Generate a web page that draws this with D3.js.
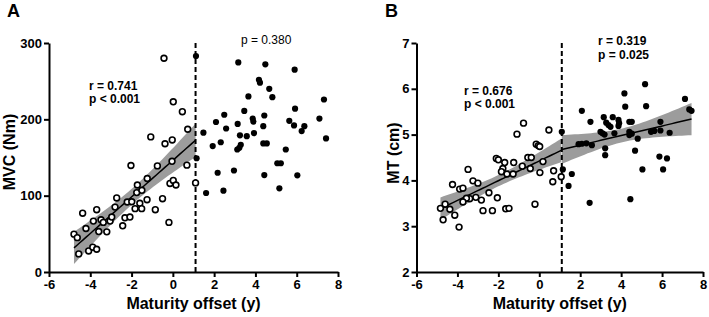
<!DOCTYPE html>
<html>
<head>
<meta charset="utf-8">
<script src="https://cdn.jsdelivr.net/npm/d3@7"></script>
<style>
  body { margin: 0; background: #fff; }
  svg { display: block; font-family: "Liberation Sans", Arial, sans-serif; }
  .axis path, .axis line { stroke: #000; stroke-width: 2; }
  .axis text { font-size: 13px; font-weight: bold; fill: #000; }
  .axis-title { font-size: 16px; font-weight: bold; }
  .panel-tag { font-size: 18px; font-weight: bold; }
  .stat { font-size: 12px; font-weight: bold; }
  .stat-plain { font-size: 12px; }
</style>
</head>
<body>
<svg id="chart" width="709" height="317"></svg>
<script>
// tick labels
const xTicks = [-6, -4, -2, 0, 2, 4, 6, 8];
const mvcTicks = [0, 100, 200, 300];
const mtTicks = [2, 3, 4, 5, 6, 7];
const pvCut = 1.1; // seuil peak velocity (trait pointillé)

// MVC (Nm) - pré-PHV (cercles vides), [maturity offset, valeur]
const mvcOpen = [
  [-4.79, 49.6], [-4.63, 45], [-4.56, 23.7], [-4.37, 77], [-4.21, 57], [-4.08, 27.6],
  [-3.88, 32.5], [-3.69, 81.6], [-3.85, 66.7], [-3.69, 29.8], [-3.59, 53], [-3.48, 68.4],
  [-3.37, 65], [-3.2, 52.6], [-3.04, 66.7], [-2.96, 72], [-2.8, 85], [-2.72, 97],
  [-2.43, 60.5], [-2.32, 71], [-2.08, 72], [-2.21, 91.7], [-2.03, 139.5], [-1.99, 92],
  [-1.83, 83], [-1.75, 104], [-1.72, 114], [-1.6, 90], [-1.51, 83], [-1.5, 107],
  [-1.25, 94.7], [-1.24, 122.5], [-0.85, 81.6], [-0.75, 139], [-0.5, 96], [-0.19, 65],
  [-0.14, 116], [0.02, 120], [0.15, 114], [-0.04, 145], [0.68, 140], [1.1, 116.7],
  [-0.43, 280], [0.02, 223], [0.46, 210], [0.72, 187], [-1.07, 177], [-0.38, 168], [-0.03, 173]
];
// MVC (Nm) - post-PHV (points pleins)
const mvcFilled = [
  [1.12, 283], [3.17, 274.6], [4.48, 272], [5.9, 265], [4.17, 251.7], [4.22, 248],
  [4.67, 240], [3.66, 230], [4.82, 229], [7.32, 226], [5.92, 214], [3.46, 211],
  [2.49, 206], [4.43, 205], [3.87, 201], [3.9, 197], [2.09, 196.5], [3.14, 194],
  [4.38, 191], [5.64, 198], [7.1, 201], [5.87, 192], [6.37, 191], [6.24, 184.6],
  [2.58, 188], [1.48, 182.5], [3.93, 182], [3.25, 179], [3.58, 178], [7.42, 175],
  [2.32, 170], [1.93, 165], [3.29, 166.7], [3.22, 162.7], [3.12, 160.5], [4.38, 168.4],
  [4.55, 168.4], [5.47, 160.5], [1.15, 149], [2.17, 130], [2.96, 133], [5.06, 142.5],
  [5.23, 142.5], [4.43, 127], [6.03, 126.7], [5.16, 109.6], [1.61, 103.5], [2.45, 106.6]
];
// MT (cm) - pré-PHV
const mtOpen = [
  [-0.77, 5.25], [-1.09, 5.01], [0.47, 5.10], [-0.15, 4.79], [-0.05, 4.76], [0.02, 4.74],
  [-2.1, 4.48], [-2.0, 4.45], [-1.69, 4.39], [-1.25, 4.39], [-0.56, 4.5], [-0.39, 4.5],
  [0.18, 4.41], [-0.83, 4.31], [-0.44, 4.26], [-3.48, 4.24], [-1.78, 4.26], [-1.85, 4.19],
  [-1.58, 4.14], [-1.28, 4.14], [0.03, 4.17], [0.7, 4.21], [0.66, 3.97], [1.07, 4.08],
  [-4.24, 3.91], [-3.24, 3.99], [-3.0, 3.94], [-3.89, 3.81], [-3.73, 3.83], [-2.46, 3.73],
  [-2.05, 3.62], [-2.83, 3.57], [-3.1, 3.63], [-3.4, 3.6], [-3.56, 3.61], [-3.73, 3.53],
  [-4.6, 3.48], [-4.83, 3.39], [-4.37, 3.37], [-4.13, 3.24], [-4.7, 3.14], [-3.92, 2.98],
  [-2.75, 3.34], [-2.29, 3.34], [-1.64, 3.38], [-1.48, 3.39], [-0.21, 3.48]
];
// MT (cm) - post-PHV
const mtFilled = [
  [5.17, 6.1], [4.16, 5.9], [4.2, 5.61], [5.22, 5.62], [7.12, 5.78], [7.33, 5.55],
  [7.44, 5.52], [2.08, 5.52], [2.5, 5.28], [3.15, 5.38], [3.59, 5.38], [3.27, 5.26],
  [3.38, 5.21], [3.48, 5.17], [3.87, 5.32], [3.9, 5.25], [3.87, 5.19], [4.4, 5.28],
  [4.52, 5.28], [5.92, 5.28], [2.99, 5.06], [3.09, 5.03], [3.19, 5.0], [3.67, 5.03],
  [4.4, 5.06], [4.52, 5.02], [4.4, 4.99], [5.46, 5.06], [5.62, 5.08], [5.92, 5.09],
  [6.37, 5.04], [4.81, 4.91], [1.92, 4.79], [2.08, 4.8], [2.3, 4.81], [2.57, 4.77],
  [1.1, 5.06], [3.22, 4.7], [3.22, 4.55], [4.68, 4.65], [5.87, 4.52], [6.24, 4.48],
  [5.04, 4.24], [6.05, 4.24], [1.15, 4.24], [1.59, 4.14], [1.43, 3.88], [2.46, 3.51], [4.45, 3.59]
];

const panels = [
  {
    tag: 'A', yLabel: 'MVC (Nm)', yDomain: [0, 300], yTicks: mvcTicks,
    open: mvcOpen, filled: mvcFilled, fitOpen: true, fitFilled: false,
    box: { left: 49, right: 338, top: 43, bottom: 272 },
    tagPos: [7, 17], yLabelPos: [15, 152],
    stats: [
      { x: 89, y: 89.5, lines: ['r = 0.741', 'p < 0.001'], cls: 'stat' },
      { x: 241, y: 44, lines: ['p = 0.380'], cls: 'stat-plain' }
    ]
  },
  {
    tag: 'B', yLabel: 'MT (cm)', yDomain: [2, 7], yTicks: mtTicks,
    open: mtOpen, filled: mtFilled, fitOpen: true, fitFilled: true,
    box: { left: 416.5, right: 703, top: 43, bottom: 272 },
    tagPos: [385, 17], yLabelPos: [399, 153],
    stats: [
      { x: 464, y: 94.5, lines: ['r = 0.676', 'p < 0.001'], cls: 'stat' },
      { x: 598, y: 45, lines: ['r = 0.319', 'p = 0.025'], cls: 'stat' }
    ]
  }
];

// Régression linéaire + IC 95 %
function fitLine(pts) {
  const n = pts.length;
  const mx = d3.mean(pts, d => d[0]);
  const my = d3.mean(pts, d => d[1]);
  const sxx = d3.sum(pts, d => (d[0] - mx) ** 2);
  const sxy = d3.sum(pts, d => (d[0] - mx) * (d[1] - my));
  const b = sxy / sxx;
  const a = my - b * mx;
  const sse = d3.sum(pts, d => (d[1] - a - b * d[0]) ** 2);
  const s = Math.sqrt(sse / (n - 2));
  const t = 1.96 + 2.4 / (n - 2);
  const [x0, x1] = d3.extent(pts, d => d[0]);
  return d3.range(0, 41).map(i => {
    const x = x0 + (x1 - x0) * i / 40;
    const yh = a + b * x;
    const h = t * s * Math.sqrt(1 / n + (x - mx) ** 2 / sxx);
    return { x, y: yh, lo: yh - h, hi: yh + h };
  });
}

const svg = d3.select('#chart');

panels.forEach(p => {
  const g = svg.append('g');
  const x = d3.scaleLinear().domain([-6, 8]).range([p.box.left, p.box.right]);
  const y = d3.scaleLinear().domain(p.yDomain).range([p.box.bottom, p.box.top]);

  // bandes de confiance et droites
  const fits = [];
  if (p.fitOpen) fits.push(fitLine(p.open));
  if (p.fitFilled) fits.push(fitLine(p.filled));
  fits.forEach(band => {
    g.append('path')
      .attr('d', d3.area().x(d => x(d.x)).y0(d => y(d.lo)).y1(d => y(d.hi))(band))
      .attr('fill', '#9c9c9c');
  });
  fits.forEach(band => {
    g.append('path')
      .attr('d', d3.line().x(d => x(d.x)).y(d => y(d.y))(band))
      .attr('fill', 'none').attr('stroke', '#000').attr('stroke-width', 1.5);
  });

  // seuil
  g.append('line')
    .attr('x1', x(pvCut)).attr('x2', x(pvCut))
    .attr('y1', y(p.yDomain[1])).attr('y2', y(p.yDomain[0]))
    .attr('stroke', '#000').attr('stroke-width', 2)
    .attr('stroke-dasharray', '5,3');

  // points
  g.selectAll('.pt-filled').data(p.filled).enter().append('circle')
    .attr('cx', d => x(d[0])).attr('cy', d => y(d[1])).attr('r', 3.1)
    .attr('fill', '#000');
  g.selectAll('.pt-open').data(p.open).enter().append('circle')
    .attr('cx', d => x(d[0])).attr('cy', d => y(d[1])).attr('r', 2.9)
    .attr('fill', '#fff').attr('stroke', '#000').attr('stroke-width', 1.6);

  // axes
  g.append('g').attr('class', 'axis')
    .attr('transform', `translate(0,${p.box.bottom})`)
    .call(d3.axisBottom(x).tickValues(xTicks).tickFormat(d => String(d))
      .tickSize(5).tickSizeOuter(0).tickPadding(3));
  g.append('g').attr('class', 'axis')
    .attr('transform', `translate(${p.box.left},0)`)
    .call(d3.axisLeft(y).tickValues(p.yTicks).tickFormat(d => String(d))
      .tickSize(5).tickSizeOuter(0).tickPadding(2));

  // titres
  g.append('text').attr('class', 'axis-title')
    .attr('x', (p.box.left + p.box.right) / 2).attr('y', 309)
    .attr('text-anchor', 'middle').text('Maturity offset (y)');
  g.append('text').attr('class', 'axis-title')
    .attr('transform', `translate(${p.yLabelPos[0]},${p.yLabelPos[1]}) rotate(-90)`)
    .attr('text-anchor', 'middle').text(p.yLabel);
  g.append('text').attr('class', 'panel-tag')
    .attr('x', p.tagPos[0]).attr('y', p.tagPos[1]).text(p.tag);

  p.stats.forEach(s => {
    const t = g.append('text').attr('class', s.cls).attr('x', s.x).attr('y', s.y);
    s.lines.forEach((l, i) => {
      t.append('tspan').attr('x', s.x).attr('dy', i ? 13.5 : 0).text(l);
    });
  });
});
</script>
</body>
</html>
